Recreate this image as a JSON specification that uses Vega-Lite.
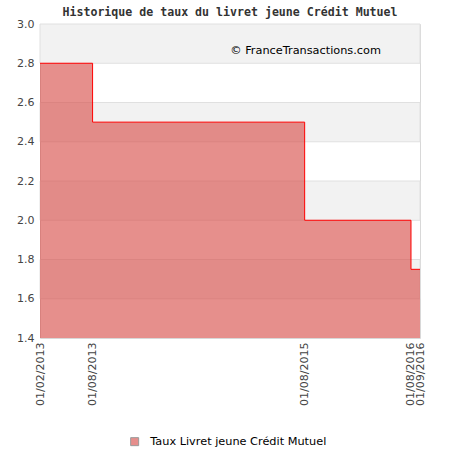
{
  "$schema": "https://vega.github.io/schema/vega-lite/v6.json",
  "autosize": "none",
  "width": 380,
  "height": 314,
  "padding": {"top": 24, "left": 40, "right": 40, "bottom": 112},
  "background": "white",
  "title": {
    "text": "Historique de taux du livret jeune Crédit Mutuel",
    "font": "DejaVu Sans Mono",
    "fontSize": 11.6,
    "fontWeight": "bold",
    "color": "#333333",
    "anchor": "middle",
    "offset": -1
  },
  "config": {
    "view": {"stroke": "#d8d8d8", "strokeWidth": 1},
    "font": "DejaVu Sans",
    "axis": {"labelOverlap": false, "ticks": false, "domain": false, "grid": false, "title": null},
    "axisY": {"labelOverlap": false},
    "axisQuantitative": {"labelOverlap": false}
  },
  "datasets": {
    "taux": [
      {"date": "2013-02-01", "taux": 2.8, "serie": "Taux Livret jeune Crédit Mutuel"},
      {"date": "2013-08-01", "taux": 2.5, "serie": "Taux Livret jeune Crédit Mutuel"},
      {"date": "2015-08-01", "taux": 2.0, "serie": "Taux Livret jeune Crédit Mutuel"},
      {"date": "2016-08-01", "taux": 1.75, "serie": "Taux Livret jeune Crédit Mutuel"},
      {"date": "2016-09-01", "taux": 1.75, "serie": "Taux Livret jeune Crédit Mutuel"}
    ],
    "bandes": [
      {"bas": 2.8, "haut": 3.0},
      {"bas": 2.4, "haut": 2.6},
      {"bas": 2.0, "haut": 2.2},
      {"bas": 1.6, "haut": 1.8}
    ],
    "marque": [
      {"date": "2014-11-18", "taux": 2.86, "texte": "© FranceTransactions.com"}
    ]
  },
  "encoding": {
    "y": {
      "type": "quantitative",
      "scale": {"domain": [1.4, 3.0], "zero": false, "nice": false},
      "axis": {
        "values": [1.4, 1.6, 1.8, 2.0, 2.2, 2.4, 2.6, 2.8, 3.0],
        "format": ".1f",
        "labelFontSize": 11,
        "labelColor": "#444444",
        "labelPadding": 6,
        "labelOverlap": false
      }
    }
  },
  "layer": [
    {
      "data": {"name": "bandes"},
      "mark": {"type": "rect", "fill": "#f2f2f2", "stroke": "#e0e0e0", "strokeWidth": 1},
      "encoding": {
        "y": {"field": "bas", "type": "quantitative"},
        "y2": {"field": "haut"}
      }
    },
    {
      "data": {"name": "taux"},
      "mark": {"type": "area", "interpolate": "step-after", "opacity": 0.65, "clip": true},
      "encoding": {
        "x": {
          "field": "date", "type": "temporal",
          "scale": {"type": "utc", "domain": [{"year": 2013, "month": 2, "date": 1, "utc": true}, {"year": 2016, "month": 9, "date": 1, "utc": true}]},
          "axis": {
            "values": [
              {"year": 2013, "month": 2, "date": 1, "utc": true},
              {"year": 2013, "month": 8, "date": 1, "utc": true},
              {"year": 2015, "month": 8, "date": 1, "utc": true},
              {"year": 2016, "month": 8, "date": 1, "utc": true},
              {"year": 2016, "month": 9, "date": 1, "utc": true}
            ],
            "format": "%d/%m/%Y",
            "labelAngle": -90,
            "labelAlign": "right",
            "labelBaseline": "middle",
            "labelFontSize": 11,
            "labelColor": "#444444",
            "labelPadding": 4,
            "labelOverlap": false,
            "labelBound": false
          }
        },
        "y": {"field": "taux", "type": "quantitative"},
        "y2": {"datum": 1.4},
        "color": {
          "field": "serie", "type": "nominal",
          "scale": {"range": ["#d9534f"]},
          "legend": {
            "title": null,
            "orient": "none",
            "legendX": 89,
            "legendY": 412,
            "symbolType": "square",
            "symbolSize": 64,
            "symbolStrokeColor": "#666666",
            "symbolStrokeWidth": 1,
            "labelFontSize": 11.3,
            "labelOffset": 10,
            "labelColor": "#000000",
            "labelFont": "DejaVu Sans",
            "labelLimit": 0
          }
        }
      }
    },
    {
      "data": {"name": "taux"},
      "mark": {"type": "line", "interpolate": "step-after", "color": "#ff0000", "strokeWidth": 1},
      "encoding": {
        "x": {"field": "date", "type": "temporal"},
        "y": {"field": "taux", "type": "quantitative"}
      }
    },
    {
      "data": {"name": "marque"},
      "mark": {"type": "text", "align": "left", "baseline": "middle", "fontSize": 11.3, "font": "DejaVu Sans", "color": "#000000"},
      "encoding": {
        "x": {"field": "date", "type": "temporal"},
        "y": {"field": "taux", "type": "quantitative"},
        "text": {"field": "texte"}
      }
    }
  ]
}
